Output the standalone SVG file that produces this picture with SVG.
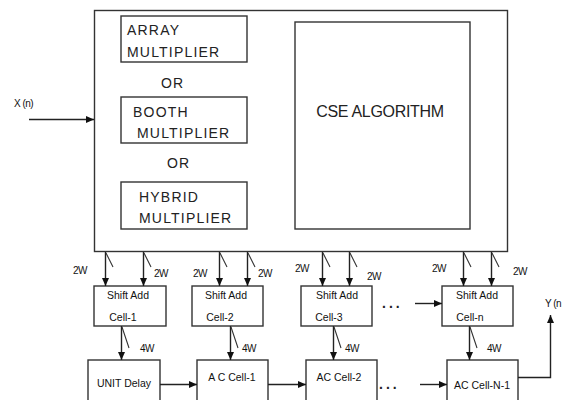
<svg xmlns="http://www.w3.org/2000/svg" width="566" height="400" viewBox="0 0 566 400">
<style>
.box{fill:#fff;stroke:#333;stroke-width:1.4}
.ln{fill:none;stroke:#222;stroke-width:1.4}
.sl{fill:none;stroke:#333;stroke-width:1.1}
.big{font-family:"Liberation Sans",Arial,sans-serif;font-size:14px;letter-spacing:1.2px;fill:#222}
.cse{font-family:"Liberation Sans",Arial,sans-serif;font-size:16px;fill:#222}
.sm{font-family:"Liberation Sans",Arial,sans-serif;font-size:10.5px;fill:#111}
.lb{font-family:"Liberation Sans",Arial,sans-serif;font-size:10px;fill:#111;letter-spacing:-0.5px}
.dots{font-family:"Liberation Sans",Arial,sans-serif;font-size:14px;font-weight:bold;fill:#222;letter-spacing:3px}
</style>
<defs>
<marker id="ah" markerUnits="userSpaceOnUse" markerWidth="8" markerHeight="8" viewBox="0 0 8 8" refX="8" refY="4" orient="auto">
<path d="M0,0.5 L8,4 L0,7.5 Z" fill="#111"/>
</marker>
</defs>
<rect width="566" height="400" fill="#fff"/>
<g id="main">
<rect class="box" x="94.5" y="10.5" width="413" height="241"/>
</g>
<g id="array">
<rect class="box" x="121" y="16" width="126" height="46"/>
<text class="big" x="127" y="35">ARRAY</text>
<text class="big" x="127" y="57">MULTIPLIER</text>
</g>
<g id="or1"><text class="big" x="161" y="88">OR</text></g>
<g id="booth">
<rect class="box" x="121" y="97" width="126" height="46"/>
<text class="big" x="133" y="117">BOOTH</text>
<text class="big" x="137" y="138">MULTIPLIER</text>
</g>
<g id="or2"><text class="big" x="167" y="168">OR</text></g>
<g id="hybrid">
<rect class="box" x="121" y="182" width="126" height="47"/>
<text class="big" x="139" y="202">HYBRID</text>
<text class="big" x="139" y="223">MULTIPLIER</text>
</g>
<g id="cse">
<rect class="box" x="295" y="22" width="175" height="207"/>
<text class="cse" x="380" y="117" text-anchor="middle" letter-spacing="-0.3">CSE ALGORITHM</text>
</g>
<g id="xin"><text class="lb" x="14" y="107">X (n)</text></g>
<g id="yout"><text class="lb" x="545" y="307">Y (n</text></g>
<g id="sa1">
<rect class="box" x="94" y="286" width="72" height="40"/>
<text class="sm" x="128" y="299" text-anchor="middle">Shift Add</text>
<text class="sm" x="123" y="321" text-anchor="middle">Cell-1</text>
</g>
<g id="sa2">
<rect class="box" x="192" y="286" width="71" height="40"/>
<text class="sm" x="226" y="299" text-anchor="middle">Shift Add</text>
<text class="sm" x="220" y="321" text-anchor="middle">Cell-2</text>
</g>
<g id="sa3">
<rect class="box" x="301" y="286" width="71" height="40"/>
<text class="sm" x="337" y="299" text-anchor="middle">Shift Add</text>
<text class="sm" x="329" y="321" text-anchor="middle">Cell-3</text>
</g>
<g id="san">
<rect class="box" x="442" y="286" width="71" height="40"/>
<text class="sm" x="477" y="299" text-anchor="middle">Shift Add</text>
<text class="sm" x="470" y="321" text-anchor="middle">Cell-n</text>
</g>
<g id="ud">
<rect class="box" x="88" y="360" width="72" height="50"/>
<text class="sm" x="124" y="387" text-anchor="middle" font-size="11.5">UNIT Delay</text>
</g>
<g id="ac1">
<rect class="box" x="197" y="360" width="71" height="50"/>
<text class="sm" x="232" y="381" text-anchor="middle" font-size="11.5">A C Cell-1</text>
</g>
<g id="ac2">
<rect class="box" x="306" y="360" width="71" height="50"/>
<text class="sm" x="339" y="381" text-anchor="middle" font-size="11.5">AC Cell-2</text>
</g>
<g id="acn">
<rect class="box" x="447" y="360" width="71" height="50"/>
<text class="sm" x="482" y="389" text-anchor="middle" font-size="11.5">AC Cell-N-1</text>
</g>
<g id="connectors">
<line class="ln" x1="29" y1="119.5" x2="94" y2="119.5" marker-end="url(#ah)"/>
<line class="ln" x1="105.5" y1="252" x2="105.5" y2="286" marker-end="url(#ah)"/>
<line class="ln" x1="143.5" y1="252" x2="143.5" y2="286" marker-end="url(#ah)"/>
<line class="ln" x1="219.5" y1="252" x2="219.5" y2="286" marker-end="url(#ah)"/>
<line class="ln" x1="247.5" y1="252" x2="247.5" y2="286" marker-end="url(#ah)"/>
<line class="ln" x1="322.5" y1="252" x2="322.5" y2="286" marker-end="url(#ah)"/>
<line class="ln" x1="349.5" y1="252" x2="349.5" y2="286" marker-end="url(#ah)"/>
<line class="ln" x1="463.5" y1="252" x2="463.5" y2="286" marker-end="url(#ah)"/>
<line class="ln" x1="491.5" y1="252" x2="491.5" y2="286" marker-end="url(#ah)"/>
<line class="ln" x1="121.5" y1="326" x2="121.5" y2="360" marker-end="url(#ah)"/>
<line class="ln" x1="230.5" y1="326" x2="230.5" y2="360" marker-end="url(#ah)"/>
<line class="ln" x1="333.5" y1="326" x2="333.5" y2="360" marker-end="url(#ah)"/>
<line class="ln" x1="469.5" y1="326" x2="469.5" y2="360" marker-end="url(#ah)"/>
<line class="ln" x1="160" y1="384.5" x2="197" y2="384.5" marker-end="url(#ah)"/>
<line class="ln" x1="268" y1="384.5" x2="306" y2="384.5" marker-end="url(#ah)"/>
<line class="ln" x1="420" y1="384.5" x2="447" y2="384.5" marker-end="url(#ah)"/>
<line class="ln" x1="415" y1="303.5" x2="442" y2="303.5" marker-end="url(#ah)"/>
<polyline class="ln" points="518,377.5 550.5,377.5 550.5,315" marker-end="url(#ah)"/>
<path class="sl" d="M106,253 L113,267 M144,253 L151,267 M220,253 L227,267 M248,253 L255,267 M323,253 L330,267 M350,253 L357,267 M464,253 L471,267 M492,253 L499,267 M122,327 L129,348 M231,327 L238,348 M334,327 L341,348 M470,327 L477,348"/>
<text class="dots" x="382" y="308">...</text>
<text class="dots" x="379" y="389">...</text>
<text class="lb" x="73" y="274">2W</text>
<text class="lb" x="154" y="277">2W</text>
<text class="lb" x="193" y="277">2W</text>
<text class="lb" x="258" y="277">2W</text>
<text class="lb" x="295" y="272">2W</text>
<text class="lb" x="367" y="280">2W</text>
<text class="lb" x="432" y="272">2W</text>
<text class="lb" x="513" y="275">2W</text>
<text class="lb" x="140" y="352">4W</text>
<text class="lb" x="242" y="352">4W</text>
<text class="lb" x="345" y="352">4W</text>
<text class="lb" x="487" y="352">4W</text>
</g>
</svg>
